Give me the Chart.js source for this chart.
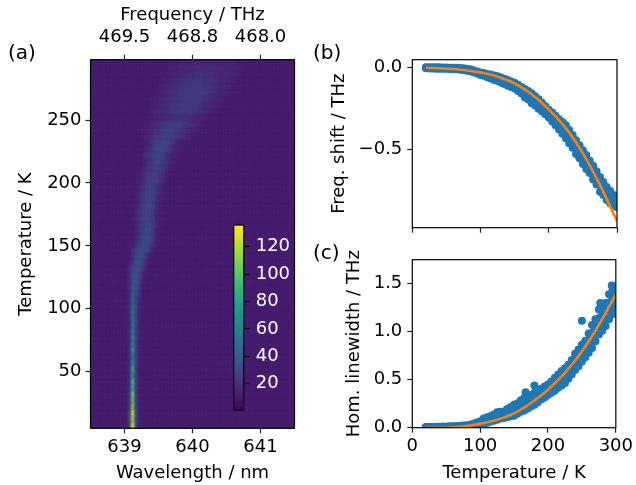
<!DOCTYPE html>
<html>
<head>
<meta charset="utf-8">
<title>Spectra</title>
<script src="https://cdn.jsdelivr.net/npm/chart.js@4/dist/chart.umd.min.js"></script>
<style>
  html, body { margin: 0; padding: 0; background: #fff; }
  #page { position: relative; width: 636px; height: 485px; overflow: hidden; }
  canvas { position: absolute; }
  .tag { position: absolute; font: 20px "DejaVu Sans"; color: #000; }
</style>
</head>
<body>
<div id="page">
  <canvas id="mapChart" width="305" height="485" style="left:0;top:0"></canvas>
  <canvas id="barChart" width="66" height="250" style="left:230px;top:190px"></canvas>
  <canvas id="shiftChart" width="331" height="270" style="left:305px;top:0"></canvas>
  <canvas id="widthChart" width="331" height="245" style="left:305px;top:240px"></canvas>
  <div class="tag" style="left:8px;top:40px">(a)</div>
  <div class="tag" style="left:313px;top:40px">(b)</div>
  <div class="tag" style="left:313px;top:240px">(c)</div>
</div>
<script>
// ---- heat map (a) ----
const firstWavelength = 638.525;
const wavelengthStep = 0.05;
const wavelengthCount = 60;
const backgroundCount = 12;
const mapTemps = [7.5, 12.5, 17.5, 22.5, 27.5, 32.5, 37.5, 42.5, 47.5, 52.5, 57.5, 62.5, 67.5, 72.5, 77.5, 82.5, 87.5, 92.5, 97.5, 102.5, 107.5, 112.5, 117.5, 122.5, 127.5, 132.5, 137.5, 142.5, 147.5, 152.5, 157.5, 162.5, 167.5, 172.5, 177.5, 182.5, 187.5, 192.5, 197.5, 202.5, 207.5, 212.5, 217.5, 222.5, 227.5, 232.5, 237.5, 242.5, 247.5, 252.5, 257.5, 262.5, 267.5, 272.5, 277.5, 282.5, 287.5, 292.5, 297.5];
// first wavelength column of the visible line in each row
const mapStart = [11, 11, 11, 11, 11, 11, 11, 11, 11, 11, 11, 11, 11, 11, 11, 11, 11, 11, 11, 11, 11, 11, 10, 11, 11, 11, 12, 12, 12, 13, 13, 13, 13, 12, 13, 13, 13, 13, 14, 14, 14, 15, 15, 15, 16, 16, 15, 15, 16, 17, 17, 18, 18, 19, 20, 21, 22, 23, 24];
const mapCounts = [
  [24, 130, 34], [26, 116, 36], [24, 128, 34], [22, 108, 32], [20, 100, 28], [20, 110, 28],
  [18, 86, 27], [18, 96, 26], [18, 74, 26], [17, 88, 25], [16, 70, 26], [16, 62, 26],
  [16, 76, 28], [16, 60, 28], [16, 66, 30], [16, 56, 28], [16, 60, 30, 12], [16, 52, 32, 13],
  [16, 54, 32, 13], [16, 46, 32, 14], [16, 46, 32, 16], [16, 40, 34, 20, 12],
  [12, 18, 38, 38, 24, 13], [16, 34, 38, 26, 14], [16, 34, 38, 30, 17, 12], [15, 28, 36, 34, 24, 15],
  [22, 36, 38, 30, 17, 12], [20, 32, 36, 34, 24, 14], [18, 28, 34, 34, 32, 24, 14],
  [18, 27, 32, 33, 28, 20, 13], [16, 24, 30, 33, 30, 24, 14], [15, 22, 28, 32, 32, 26, 16, 13],
  [14, 20, 26, 30, 32, 28, 18, 13], [13, 18, 24, 30, 32, 28, 22, 14, 13], [16, 22, 28, 31, 30, 25, 16, 13],
  [14, 20, 26, 30, 31, 27, 20, 13], [13, 18, 24, 28, 29, 27, 20, 14, 13], [13, 17, 22, 27, 30, 29, 24, 17, 13],
  [15, 20, 25, 28, 29, 25, 19, 14, 13], [14, 18, 24, 27, 28, 26, 22, 16, 13], [13, 17, 22, 26, 28, 28, 24, 19, 14, 13],
  [15, 19, 24, 27, 29, 27, 23, 18, 14, 13], [14, 18, 22, 26, 29, 29, 26, 21, 16, 13], [15, 19, 24, 28, 31, 31, 28, 22, 17, 14, 13],
  [15, 19, 25, 29, 32, 32, 29, 24, 18, 14, 13], [13, 17, 22, 27, 30, 31, 30, 26, 21, 16, 14, 13],
  [13, 15, 18, 21, 24, 26, 28, 28, 28, 26, 24, 21, 18, 15, 13],
  [13, 14, 16, 19, 22, 24, 26, 27, 27, 27, 26, 24, 22, 19, 16, 14, 13],
  [13, 14, 16, 18, 20, 23, 25, 26, 26, 26, 26, 25, 23, 20, 18, 16, 14, 13],
  [12, 13, 14, 15, 16, 18, 19, 20, 20, 20, 20, 19, 18, 16, 15, 14, 13, 12],
  [13, 14, 15, 17, 19, 21, 23, 24, 25, 25, 25, 25, 24, 23, 21, 19, 17, 15, 14, 13],
  [13, 14, 15, 17, 19, 21, 23, 24, 25, 25, 25, 25, 24, 23, 21, 19, 17, 15, 14, 13],
  [13, 14, 15, 16, 18, 20, 22, 24, 25, 25, 26, 26, 25, 25, 24, 22, 20, 18, 16, 15, 14, 13],
  [13, 14, 15, 16, 18, 20, 22, 24, 25, 26, 26, 26, 26, 25, 24, 22, 20, 18, 16, 15, 14, 13],
  [13, 14, 15, 16, 18, 19, 21, 23, 24, 25, 25, 25, 25, 24, 23, 21, 19, 18, 16, 15, 14, 13],
  [13, 14, 15, 16, 17, 18, 20, 21, 22, 22, 23, 23, 22, 22, 21, 20, 18, 17, 16, 15, 14, 13],
  [13, 14, 15, 15, 16, 17, 18, 19, 20, 20, 20, 20, 20, 20, 19, 18, 17, 16, 15, 15, 14, 13],
  [13, 13, 14, 15, 15, 16, 16, 17, 17, 18, 18, 18, 18, 17, 17, 16, 16, 15, 15, 14, 13, 13],
  [13, 13, 13, 14, 14, 15, 15, 15, 16, 16, 16, 16, 16, 16, 15, 15, 15, 14, 14, 13, 13, 13]
];
const wavelengthTicks = [639, 640, 641];
const frequencyLabels = ["469.5", "468.8", "468.0"];
const tempTicks = [50, 100, 150, 200, 250];
const colorbarTicks = [20, 40, 60, 80, 100, 120];
const colorMin = 0.8;
const colorMax = 135.8;
const viridis = ["#440154", "#482475", "#414487", "#355f8d", "#2a788e", "#21918c", "#22a884", "#44bf70", "#7ad151", "#bddf26", "#fde725"];

// ---- freq. shift (b) ----
const sampleTemps = [20, 25, 30, 35, 40, 45, 50, 55, 60, 65, 70, 75, 80, 85, 90, 95, 100, 105, 110, 115, 120, 125, 130, 135, 140, 145, 150, 155, 160, 165, 170, 175, 180, 185, 190, 195, 200, 205, 210, 215, 220, 225, 230, 235, 240, 245, 250, 255, 260, 265, 270, 275, 280, 285, 290, 295, 300];
const shiftUpper = [0.003, 0.003, 0.003, 0.002, 0.002, 0.001, 0.001, 0.000, 0.000, -0.001, -0.002, -0.003, -0.006, -0.010, -0.016, -0.023, -0.030, -0.033, -0.038, -0.042, -0.048, -0.052, -0.060, -0.068, -0.076, -0.084, -0.092, -0.105, -0.118, -0.130, -0.143, -0.157, -0.175, -0.194, -0.214, -0.236, -0.258, -0.275, -0.295, -0.315, -0.332, -0.352, -0.382, -0.412, -0.445, -0.475, -0.505, -0.535, -0.570, -0.600, -0.635, -0.670, -0.700, -0.730, -0.755, -0.780, -0.795];
const shiftMiddle = [0, -0.001, -0.001, -0.002, -0.002, -0.003, -0.003, -0.004, -0.005, -0.006, -0.007, -0.009, -0.012, -0.016, -0.022, -0.029, -0.037, -0.041, -0.047, -0.054, -0.061, -0.067, -0.075, -0.084, -0.093, -0.101, -0.110, -0.124, -0.138, -0.155, -0.169, -0.187, -0.203, -0.223, -0.241, -0.260, -0.281, -0.302, -0.323, -0.346, -0.368, -0.392, -0.422, -0.451, -0.486, -0.515, -0.547, -0.577, -0.607, -0.642, -0.675, -0.715, -0.740, -0.770, -0.792, -0.812, -0.825];
const shiftLower = [-0.004, -0.005, -0.005, -0.006, -0.006, -0.007, -0.007, -0.008, -0.009, -0.010, -0.012, -0.014, -0.018, -0.022, -0.028, -0.036, -0.045, -0.050, -0.058, -0.066, -0.075, -0.082, -0.092, -0.100, -0.110, -0.118, -0.128, -0.142, -0.158, -0.182, -0.195, -0.218, -0.232, -0.252, -0.268, -0.285, -0.305, -0.330, -0.352, -0.378, -0.405, -0.432, -0.462, -0.490, -0.528, -0.555, -0.590, -0.620, -0.645, -0.685, -0.715, -0.760, -0.780, -0.810, -0.830, -0.845, -0.855];
const fitTemps = [20, 50, 75, 100, 125, 150, 175, 200, 225, 250, 275, 300];
const shiftFit = [0, -0.006, -0.014, -0.03, -0.055, -0.096, -0.163, -0.255, -0.37, -0.525, -0.718, -0.94];
const shiftTicks = [0, -0.5];
const shiftLabels = ["0.0", "\u22120.5"];

// ---- hom. linewidth (c) ----
const widthUpper = [0.006, 0.007, 0.008, 0.010, 0.010, 0.012, 0.012, 0.014, 0.016, 0.018, 0.020, 0.022, 0.026, 0.032, 0.040, 0.055, 0.066, 0.095, 0.110, 0.120, 0.135, 0.160, 0.165, 0.170, 0.195, 0.215, 0.240, 0.255, 0.285, 0.310, 0.325, 0.340, 0.365, 0.390, 0.405, 0.430, 0.450, 0.480, 0.520, 0.555, 0.590, 0.620, 0.655, 0.705, 0.770, 0.815, 0.865, 0.905, 0.980, 1.070, 1.130, 1.230, 1.290, 1.300, 1.390, 1.430, 1.420];
const widthMidHigh = [0.004, 0.005, 0.005, 0.007, 0.007, 0.008, 0.008, 0.009, 0.011, 0.012, 0.013, 0.015, 0.018, 0.023, 0.031, 0.043, 0.054, 0.076, 0.090, 0.101, 0.114, 0.134, 0.142, 0.147, 0.167, 0.183, 0.202, 0.218, 0.245, 0.267, 0.283, 0.300, 0.323, 0.348, 0.368, 0.392, 0.413, 0.442, 0.475, 0.508, 0.540, 0.568, 0.607, 0.655, 0.713, 0.757, 0.807, 0.848, 0.913, 0.990, 1.053, 1.143, 1.197, 1.220, 1.303, 1.347, 1.350];
const widthMidLow = [0.002, 0.002, 0.003, 0.003, 0.003, 0.004, 0.004, 0.005, 0.005, 0.006, 0.007, 0.008, 0.010, 0.015, 0.021, 0.032, 0.042, 0.057, 0.070, 0.081, 0.093, 0.109, 0.118, 0.123, 0.138, 0.150, 0.163, 0.182, 0.205, 0.223, 0.242, 0.260, 0.282, 0.307, 0.332, 0.353, 0.377, 0.403, 0.430, 0.462, 0.490, 0.517, 0.558, 0.605, 0.657, 0.698, 0.748, 0.792, 0.847, 0.910, 0.977, 1.057, 1.103, 1.140, 1.217, 1.263, 1.280];
const widthLower = [0.000, 0.000, 0.000, 0.000, 0.000, 0.000, 0.000, 0.000, 0.000, 0.000, 0.000, 0.001, 0.002, 0.006, 0.012, 0.020, 0.030, 0.038, 0.050, 0.062, 0.072, 0.083, 0.095, 0.100, 0.110, 0.118, 0.125, 0.145, 0.165, 0.180, 0.200, 0.220, 0.240, 0.265, 0.295, 0.315, 0.340, 0.365, 0.385, 0.415, 0.440, 0.465, 0.510, 0.555, 0.600, 0.640, 0.690, 0.735, 0.780, 0.830, 0.900, 0.970, 1.010, 1.060, 1.130, 1.180, 1.210];
const outlierTemps = [167, 180, 250, 277, 294];
const outlierWidths = [0.37, 0.44, 1.115, 1.30, 1.48];
const widthFit = [0, 0, 0.012, 0.04, 0.083, 0.15, 0.257, 0.396, 0.57, 0.795, 1.07, 1.385];
const widthTicks = [0, 0.5, 1, 1.5];
const widthLabels = ["0.0", "0.5", "1.0", "1.5"];
const panelTempTicks = [0, 100, 200, 300];

const FONT = { family: "DejaVu Sans", size: 18 };
Chart.defaults.font.family = FONT.family;
Chart.defaults.color = "#000";
Chart.defaults.animation = false;

// viridis lookup
function hexToRgb(h) {
  return [1, 3, 5].map(i => parseInt(h.substr(i, 2), 16));
}
function countColor(v) {
  let t = (v - colorMin) / (colorMax - colorMin);
  t = Math.min(1, Math.max(0, t)) * (viridis.length - 1);
  const i = Math.min(viridis.length - 2, Math.floor(t));
  const a = hexToRgb(viridis[i]), b = hexToRgb(viridis[i + 1]);
  const c = a.map((x, n) => Math.round(x + (b[n] - x) * (t - i)));
  return "rgb(" + c.join(",") + ")";
}

// one little canvas per colour, used as point style so cells are normal points
// the soft edge stands in for the image resampling of the original
const cellCache = {};
function cellStyle(ctx) {
  const raw = ctx.raw;
  if (!raw) return "rect";
  const xs = ctx.chart.scales.x, ys = ctx.chart.scales.y;
  const w = Math.ceil(Math.abs(xs.getPixelForValue(639) - xs.getPixelForValue(639 + wavelengthStep)));
  const h = Math.ceil(Math.abs(ys.getPixelForValue(100) - ys.getPixelForValue(105)));
  const key = raw.v + "_" + w + "_" + h;
  if (!cellCache[key]) {
    const c = document.createElement("canvas");
    const edge = 4;
    c.width = w + edge * 2;
    c.height = h + edge * 2;
    const g = c.getContext("2d");
    g.filter = "blur(1px)";
    g.fillStyle = countColor(raw.v);
    g.fillRect(edge, edge, w, h);
    cellCache[key] = c;
  }
  return cellCache[key];
}

const mapCells = [];
mapTemps.forEach((temp, row) => {
  for (let k = 0; k < wavelengthCount; k++) {
    const rel = k - mapStart[row];
    const v = rel >= 0 && rel < mapCounts[row].length ? mapCounts[row][rel] : backgroundCount;
    mapCells.push({ x: firstWavelength + k * wavelengthStep, y: temp, v: Math.max(v, backgroundCount) });
  }
});

// plot background behind the soft map cells
const mapBackPlugin = {
  id: "mapBack",
  beforeDatasetsDraw(chart) {
    const a = chart.chartArea, g = chart.ctx;
    g.save();
    g.fillStyle = countColor(backgroundCount);
    g.fillRect(a.left, a.top, a.right - a.left, a.bottom - a.top);
    g.restore();
  }
};

// black box round the axes
const framePlugin = {
  id: "frame",
  afterDatasetsDraw(chart) {
    const a = chart.chartArea, g = chart.ctx;
    g.save();
    g.strokeStyle = "#000";
    g.lineWidth = 1.2;
    g.strokeRect(a.left, a.top, a.right - a.left, a.bottom - a.top);
    g.restore();
  }
};

function fixedTicks(values) {
  return scale => { scale.ticks = values.map(v => ({ value: v })); };
}
function tickGrid() {
  return { drawOnChartArea: false, drawTicks: true, tickLength: 5, tickColor: "#222", tickWidth: 1.2 };
}
function axis(pos, size, min, max, ticks, labels, title, titlePad, tickPad) {
  return {
    type: "linear",
    position: pos,
    min: min,
    max: max,
    afterBuildTicks: fixedTicks(ticks),
    afterFit(scale) {
      if (pos === "left") scale.width = size; else scale.height = size;
    },
    border: { display: false },
    grid: tickGrid(),
    ticks: {
      autoSkip: false,
      maxRotation: 0,
      padding: tickPad,
      font: FONT,
      callback(v) {
        if (!labels) return String(v);
        const i = ticks.indexOf(v);
        return i >= 0 ? labels[i] : "";
      }
    },
    title: title ? { display: true, text: title, font: FONT, padding: titlePad } : { display: false }
  };
}

new Chart(document.getElementById("mapChart"), {
  type: "scatter",
  data: {
    datasets: [{
      data: mapCells,
      pointStyle: cellStyle,
      pointRadius: 1,
      clip: 0
    }]
  },
  options: {
    responsive: false,
    events: [],
    layout: { padding: { left: 0, right: 10.5, top: 0, bottom: 0 } },
    plugins: { legend: { display: false }, tooltip: { enabled: false } },
    scales: {
      x: axis("bottom", 56.7, 638.5, 641.5, wavelengthTicks, null, "Wavelength / nm", { top: 0, bottom: 1 }, 3),
      x2: axis("top", 59.7, 638.5, 641.5, wavelengthTicks, frequencyLabels, "Frequency / THz", { top: 5, bottom: 0 }, 7),
      y: axis("left", 90.5, 5, 298, tempTicks, null, "Temperature / K", { top: 16, bottom: 0 }, 4)
    }
  },
  plugins: [mapBackPlugin, framePlugin]
});

new Chart(document.getElementById("barChart"), {
  type: "bar",
  data: {
    labels: ["counts"],
    datasets: [{
      data: [[colorMin, colorMax]],
      barPercentage: 1,
      categoryPercentage: 1,
      backgroundColor(ctx) {
        const a = ctx.chart.chartArea;
        if (!a) return viridis[0];
        const g = ctx.chart.ctx.createLinearGradient(0, a.bottom, 0, a.top);
        viridis.forEach((c, i) => g.addColorStop(i / (viridis.length - 1), c));
        return g;
      }
    }]
  },
  options: {
    responsive: false,
    events: [],
    layout: { padding: { left: 3.7, right: 0, top: 35, bottom: 30 } },
    plugins: { legend: { display: false }, tooltip: { enabled: false } },
    scales: {
      x: { display: false, grid: { display: false } },
      y: {
        position: "right",
        min: colorMin,
        max: colorMax,
        afterBuildTicks: fixedTicks(colorbarTicks),
        afterFit(scale) { scale.width = 52.3; },
        border: { display: false },
        grid: { drawOnChartArea: false, drawTicks: true, tickLength: 6, tickColor: "#000", tickWidth: 1.2 },
        ticks: { color: "#fff", font: FONT, padding: 6, callback: v => String(v) }
      }
    }
  },
  plugins: [framePlugin]
});

function points(xs, ys) {
  return xs.map((x, i) => ({ x: x, y: ys[i] }));
}
function blueSet(xs, ys) {
  return { type: "scatter", order: 1, data: points(xs, ys), backgroundColor: "#1f77b4", borderWidth: 0, pointRadius: 4, clip: 0 };
}
function fitSet(ys) {
  return {
    type: "line", order: 0, data: points(fitTemps, ys), borderColor: "#ff7f0e", borderWidth: 2.6,
    pointRadius: 0, cubicInterpolationMode: "monotone", fill: false, clip: 0
  };
}

new Chart(document.getElementById("shiftChart"), {
  data: {
    datasets: [fitSet(shiftFit), blueSet(sampleTemps, shiftUpper), blueSet(sampleTemps, shiftMiddle), blueSet(sampleTemps, shiftLower)]
  },
  options: {
    responsive: false,
    events: [],
    layout: { padding: { left: 0, right: 19, top: 59.7, bottom: 0 } },
    plugins: { legend: { display: false }, tooltip: { enabled: false } },
    scales: {
      x: axis("bottom", 42.3, 0, 300, panelTempTicks, ["", "", "", ""], null, null, 0),
      y: axis("left", 107.3, -0.98, 0.049, shiftTicks, shiftLabels, "Freq. shift / THz", { top: 24, bottom: 0 }, 5)
    }
  },
  plugins: [framePlugin]
});

new Chart(document.getElementById("widthChart"), {
  data: {
    datasets: [fitSet(widthFit), blueSet(sampleTemps, widthUpper), blueSet(sampleTemps, widthMidHigh), blueSet(sampleTemps, widthMidLow), blueSet(sampleTemps, widthLower), blueSet(outlierTemps, outlierWidths)]
  },
  options: {
    responsive: false,
    events: [],
    layout: { padding: { left: 0, right: 19, top: 19.7, bottom: 0 } },
    plugins: { legend: { display: false }, tooltip: { enabled: false } },
    scales: {
      x: axis("bottom", 57.3, 0, 300, panelTempTicks, null, "Temperature / K", { top: 0, bottom: 1 }, 3),
      y: axis("left", 107.3, 0, 1.75, widthTicks, widthLabels, "Hom. linewidth / THz", { top: 39, bottom: 0 }, 5)
    }
  },
  plugins: [framePlugin]
});
</script>
</body>
</html>
